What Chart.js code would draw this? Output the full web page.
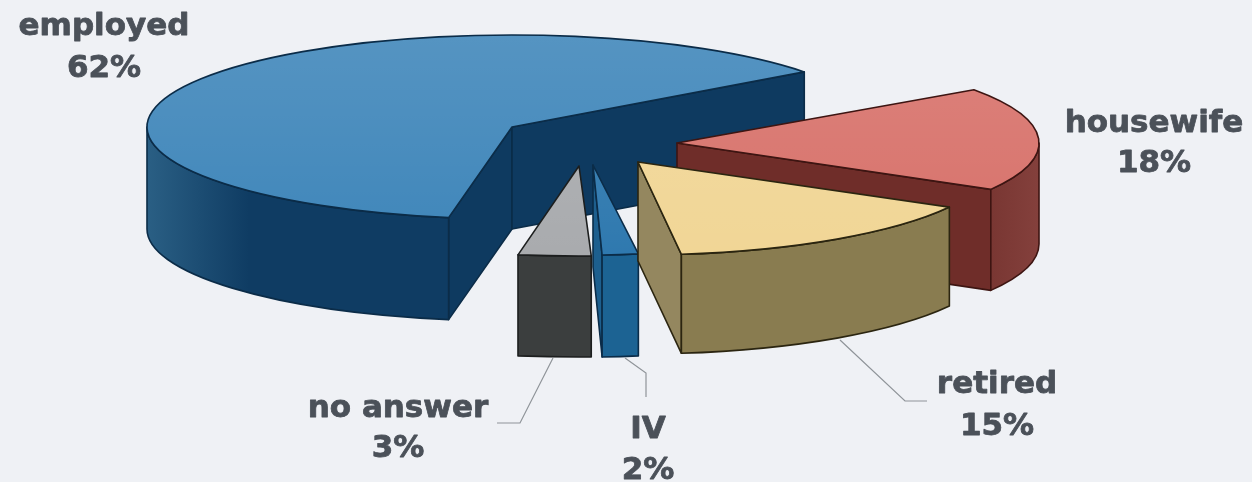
<!DOCTYPE html>
<html><head><meta charset="utf-8">
<style>html,body{margin:0;padding:0;background:#eff1f5;overflow:hidden}canvas{display:block}</style>
<script src="https://cdn.jsdelivr.net/npm/chart.js@4"></script>
</head><body><canvas id="c" width="1252" height="482"></canvas>
<script>
const categories = ['employed','housewife','retired','IV','no answer'];
const values = [62,18,15,2,3];
const topColors = ['#4288bb','#d8736c','#f1d696','#2f79af','#a9abae'];
const wallColors = ['#0f3c63','#702f2b','#897c50','#1c6393','#3b3e3e'];
const cutColors = ['#0e3a60','#6f2d29','#94875f','#1d5f8e','#3b3e3e'];
const edgeColors = ['#0b2c48','#3d1512','#2b2510','#0b2c48','#1c1e1e'];

// layout of the exploded 3D drawing, per wedge
const tipOffsets = [[-114,-114],[51,-98],[12,-79],[-33,-76],[-47,-75]];
const turnDegrees = [0,1.9,1,-1,-1];
const radiiX = [365,362,356,290,390];
const radiiY = [92,93,93,90,90];
const depths = [102,101,99,102,101];
const paintOrder = [0,1,4,3,2];
const labelSpots = [[104,35,77],[1154,132,172],[997,393,435],[648,438,479],[398,417,457]];
const leaders = [null,null,[[840,340],[905,401],[927,401]],[[625,358],[646,373],[646,397]],[[553,358],[520,423],[497,423]]];

const pie3d = {
  id:'pie3d',
  beforeDatasetsDraw(chart){
    const ctx = chart.ctx, arcs = chart.getDatasetMeta(0).data;
    const TAU = Math.PI*2;
    paintOrder.forEach(i=>{
      const a = arcs[i], R = a.outerRadius;
      const cx = a.x+tipOffsets[i][0], cy = a.y+tipOffsets[i][1];
      const rx = radiiX[i], ry = radiiY[i], depth = depths[i];
      const turn = turnDegrees[i]*Math.PI/180;
      const s = a.startAngle+turn, e = a.endAngle+turn;
      const pt = t=>[cx+rx*Math.cos(t), cy+ry*Math.sin(t)];
      ctx.save();
      ctx.lineJoin='round';
      ctx.strokeStyle = edgeColors[i];
      ctx.lineWidth = 1.6;
      // radial cut faces
      const face = (t,color)=>{
        const p = pt(t);
        ctx.beginPath();
        ctx.moveTo(cx,cy);ctx.lineTo(p[0],p[1]);ctx.lineTo(p[0],p[1]+depth);ctx.lineTo(cx,cy+depth);ctx.closePath();
        ctx.fillStyle=color;ctx.fill();ctx.stroke();
      };
      if(-Math.cos(s)>0) face(s,cutColors[i]);
      if(Math.cos(e)>0) face(e,cutColors[i]);
      // outer curved wall: only the part facing the viewer (0..PI, modulo TAU)
      for(const k of [-1,0,1,2]){
        const lo = Math.max(s,k*TAU), hi = Math.min(e,k*TAU+Math.PI);
        if(hi<=lo) continue;
        ctx.beginPath();
        ctx.ellipse(cx,cy,rx,ry,0,lo,hi,false);
        ctx.ellipse(cx,cy+depth,rx,ry,0,hi,lo,true);
        ctx.closePath();
        const g = ctx.createLinearGradient(cx-rx,0,cx+rx,0);
        g.addColorStop(0, i===0?'#2a5f84':wallColors[i]);
        g.addColorStop(0.14, wallColors[i]);
        g.addColorStop(0.88, wallColors[i]);
        g.addColorStop(1, i===1?'#84403c':wallColors[i]);
        ctx.fillStyle=g;ctx.fill();ctx.stroke();
      }
      // top face drawn by the library's own arc element, flattened
      ctx.save();
      ctx.translate(cx,cy);ctx.scale(rx/R,ry/R);ctx.rotate(turn);ctx.translate(-a.x,-a.y);
      a.draw(ctx);
      ctx.restore();
      // shading + outline of top face
      ctx.beginPath();
      ctx.moveTo(cx,cy);ctx.ellipse(cx,cy,rx,ry,0,s,e,false);ctx.closePath();
      const shade = ctx.createLinearGradient(0,cy-ry,0,cy+ry);
      shade.addColorStop(0,'rgba(255,255,255,0.10)');
      shade.addColorStop(1,'rgba(255,255,255,0)');
      ctx.fillStyle=shade;ctx.fill();
      ctx.stroke();
      ctx.restore();
    });
    // leader lines
    ctx.save();
    ctx.strokeStyle='#8f9499';ctx.lineWidth=1.2;
    leaders.forEach(l=>{ if(!l) return;
      ctx.beginPath();l.forEach((p,j)=>j?ctx.lineTo(p[0],p[1]):ctx.moveTo(p[0],p[1]));ctx.stroke();});
    // labels
    ctx.fillStyle='#4b5159';
    ctx.strokeStyle='#4b5159';ctx.lineWidth=0.8;ctx.lineJoin='round';
    ctx.font='bold 31px "DejaVu Sans"';
    ctx.textAlign='center';ctx.textBaseline='alphabetic';
    categories.forEach((c,i)=>{
      const [x,y1,y2]=labelSpots[i];
      ctx.fillText(c,x,y1);ctx.strokeText(c,x,y1);
      ctx.fillText(values[i]+'%',x,y2);ctx.strokeText(values[i]+'%',x,y2);
    });
    ctx.restore();
    return false;
  }
};

new Chart(document.getElementById('c'),{
  type:'pie',
  data:{labels:categories,datasets:[{data:values,backgroundColor:topColors,borderWidth:0}]},
  options:{
    responsive:false,animation:false,rotation:190,
    layout:{padding:0},
    plugins:{legend:{display:false},tooltip:{enabled:false},title:{display:false}}
  },
  plugins:[pie3d]
});
</script></body></html>
